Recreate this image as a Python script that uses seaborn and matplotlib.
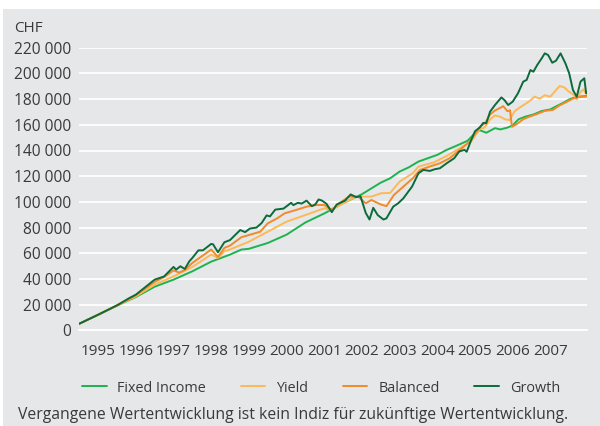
import matplotlib
matplotlib.use("Agg")
import matplotlib.pyplot as plt
import matplotlib.patches as mpatches
from matplotlib.ticker import FixedLocator, NullFormatter, FixedFormatter
import seaborn as sns
import pandas as pd

# values in CHF thousands, x in decimal years
fi_x = [1995.0, 1995.5, 1996.0, 1996.5, 1997.0, 1997.5, 1998.0, 1998.5, 1999.0, 1999.3,
        1999.5, 2000.0, 2000.5, 2001.0, 2001.5, 2002.0, 2002.5, 2003.0, 2003.25, 2003.5,
        2003.75, 2004.0, 2004.25, 2004.5, 2004.75, 2005.0, 2005.3, 2005.5, 2005.63, 2005.8,
        2006.03, 2006.17, 2006.35, 2006.5, 2006.65, 2006.83, 2007.05, 2007.27, 2007.5, 2007.67,
        2007.85, 2008.0, 2008.2, 2008.48]
fi_y = [5.2, 12.2, 19.2, 26.0, 34.0, 39.5, 46.0, 53.5, 59.0, 62.9,
        63.5, 68.0, 74.5, 84.0, 91.0, 99.0, 106.0, 115.0, 118.4, 123.6,
        127.0, 131.4, 134.0, 136.6, 140.5, 143.6, 147.5, 153.5, 155.8, 153.8,
        157.4, 156.4, 157.7, 159.5, 164.2, 166.3, 168.0, 170.7, 172.0, 174.6,
        177.2, 179.8, 181.8, 182.4]

yield_x = [1995.0, 1995.5, 1996.0, 1996.5, 1997.0, 1997.5, 1998.0, 1998.5, 1998.68, 1998.85,
           1999.0, 1999.5, 2000.0, 2000.5, 2001.0, 2001.5, 2001.7, 2002.0, 2002.35, 2002.75,
           2003.0, 2003.25, 2003.5, 2003.85, 2004.0, 2004.4, 2004.75, 2005.1, 2005.4, 2005.63,
           2005.75, 2005.9, 2006.03, 2006.17, 2006.3, 2006.42, 2006.55, 2006.68, 2006.82, 2006.95,
           2007.08, 2007.22, 2007.35, 2007.5, 2007.65, 2007.75, 2007.88, 2007.97, 2008.1, 2008.2,
           2008.3, 2008.38, 2008.44, 2008.48]
yield_y = [5.2, 12.2, 19.2, 26.5, 35.6, 42.0, 49.4, 59.0, 56.4, 61.6,
           63.0, 69.0, 76.8, 84.6, 89.8, 95.0, 93.7, 98.9, 104.1, 104.1,
           106.7, 107.0, 115.8, 122.3, 127.5, 130.6, 135.8, 141.8, 147.0, 156.9,
           157.7, 164.2, 167.3, 166.3, 164.2, 163.7, 170.5, 173.3, 175.9, 178.5,
           181.9, 180.3, 183.0, 181.9, 187.1, 190.2, 188.9, 186.3, 183.7, 179.8,
           185.5, 187.6, 184.5, 183.7]

bal_x = [1995.0, 1995.5, 1996.0, 1996.33, 1996.5, 1997.0, 1997.25, 1997.5, 1997.65, 1997.8,
         1998.0, 1998.5, 1998.68, 1998.85, 1999.0, 1999.3, 1999.5, 1999.8, 2000.0, 2000.25,
         2000.45, 2000.75, 2001.03, 2001.3, 2001.5, 2001.7, 2001.9, 2002.15, 2002.4, 2002.6,
         2002.75, 2003.0, 2003.15, 2003.35, 2003.6, 2003.85, 2004.04, 2004.3, 2004.57, 2004.83,
         2005.1, 2005.36, 2005.63, 2005.77, 2005.9, 2006.03, 2006.17, 2006.25, 2006.36, 2006.43,
         2006.48, 2006.6, 2006.78, 2006.95, 2007.13, 2007.35, 2007.57, 2007.75, 2007.93, 2008.1,
         2008.28, 2008.48]
bal_y = [5.2, 12.2, 19.5, 24.5, 27.5, 37.7, 41.5, 46.7, 45.0, 47.0,
         52.5, 62.9, 57.1, 64.2, 66.0, 72.5, 74.2, 76.8, 83.3, 87.2,
         91.1, 93.7, 96.3, 97.6, 97.6, 93.7, 98.9, 104.1, 104.1, 98.9,
         101.5, 98.0, 96.7, 105.4, 111.9, 118.4, 124.9, 127.5, 130.1, 134.0,
         140.5, 147.0, 158.4, 161.5, 168.0, 171.1, 173.2, 174.5, 170.6, 171.3,
         158.4, 160.4, 164.3, 166.4, 168.2, 170.8, 171.6, 175.2, 177.8, 180.4,
         181.7, 182.0]

gro_x = [1995.0, 1995.5, 1996.0, 1996.33, 1996.5, 1997.0, 1997.25, 1997.5, 1997.57, 1997.68,
         1997.8, 1997.92, 1998.0, 1998.16, 1998.28, 1998.5, 1998.55, 1998.68, 1998.85, 1999.0,
         1999.27, 1999.4, 1999.53, 1999.7, 1999.84, 1999.97, 2000.06, 2000.2, 2000.42, 2000.62,
         2000.68, 2000.8, 2000.9, 2001.03, 2001.17, 2001.26, 2001.35, 2001.44, 2001.56, 2001.7,
         2001.83, 2002.05, 2002.2, 2002.35, 2002.46, 2002.6, 2002.7, 2002.8, 2002.92, 2003.07,
         2003.15, 2003.33, 2003.46, 2003.6, 2003.73, 2003.83, 2004.0, 2004.13, 2004.3, 2004.43,
         2004.57, 2004.75, 2004.95, 2005.08, 2005.22, 2005.28, 2005.4, 2005.5, 2005.63, 2005.72,
         2005.8, 2005.9, 2006.03, 2006.2, 2006.28, 2006.38, 2006.5, 2006.64, 2006.78, 2006.87,
         2006.97, 2007.05, 2007.15, 2007.27, 2007.35, 2007.44, 2007.55, 2007.65, 2007.77, 2007.9,
         2008.0, 2008.1, 2008.2, 2008.3, 2008.4, 2008.45, 2008.48]
gro_y = [5.2, 12.2, 19.5, 25.2, 27.8, 39.5, 42.0, 49.4, 47.3, 49.9,
         47.8, 53.8, 56.4, 62.3, 62.3, 67.3, 67.0, 60.8, 68.6, 70.3,
         78.1, 76.5, 79.3, 80.0, 83.6, 89.5, 88.7, 94.0, 94.8, 99.3,
         97.5, 99.3, 98.7, 101.0, 96.7, 98.0, 101.9, 101.0, 98.5, 92.0,
         98.0, 101.0, 105.8, 103.7, 104.5, 91.5, 86.3, 95.4, 89.7, 86.3,
         87.2, 96.3, 98.9, 102.8, 108.0, 111.9, 122.3, 124.9, 124.1, 125.4,
         126.2, 130.1, 134.0, 139.2, 140.5, 139.0, 148.2, 155.0, 158.0, 161.5,
         161.2, 170.2, 175.4, 181.3, 179.3, 175.4, 178.0, 184.5, 193.6, 194.9,
         202.6, 201.3, 206.5, 211.7, 215.6, 214.3, 208.3, 209.9, 215.6, 207.8,
         200.0, 187.0, 181.8, 193.6, 196.2, 184.5, 185.0]

names = ["Fixed Income", "Yield", "Balanced", "Growth"]
colors = ["#1db34f", "#fdb857", "#f28a2a", "#0b6b3c"]
years = list(range(1995, 2008))
y_ticks = list(range(0, 220001, 20000))

frames = []
for name, xs, ys in zip(names, [fi_x, yield_x, bal_x, gro_x], [fi_y, yield_y, bal_y, gro_y]):
    frames.append(pd.DataFrame({"year": xs, "value": [v * 1000 for v in ys], "series": name}))
df = pd.concat(frames, ignore_index=True)

bg = "#e6e7e8"
txt = "#3a3a3a"
sns.set_theme(style="white")
plt.rcParams["font.family"] = ["Open Sans", "DejaVu Sans"]

fig = plt.figure(figsize=(6.0, 4.26), dpi=100, facecolor="white")
fig.patches.append(mpatches.Rectangle((3 / 600, 0), 597 / 600, 1 - 9 / 426,
                                      transform=fig.transFigure, facecolor=bg,
                                      edgecolor="none", zorder=-10))
ax = fig.add_axes([79.3 / 600, 1 - 330.4 / 426, 508 / 600, (330.4 - 47.7) / 426])
ax.set_facecolor("none")

sns.lineplot(data=df, x="year", y="value", hue="series", hue_order=names,
             palette=colors, estimator=None, sort=False, linewidth=1.4, ax=ax)

ax.set_xlim(1995.0, 2008.48)
ax.set_ylim(0, 220000)
ax.set_yticks(y_ticks)
ax.set_yticklabels([f"{v:,}".replace(",", " ") for v in y_ticks])
ax.yaxis.grid(True, color="white", linewidth=1.3)
ax.set_axisbelow(True)
ax.tick_params(axis="y", length=0, labelsize=11.2, labelcolor=txt, pad=6)

ax.xaxis.set_major_locator(FixedLocator(years + [2008, 2008.48]))
ax.xaxis.set_major_formatter(NullFormatter())
ax.xaxis.set_minor_locator(FixedLocator([y + 0.5 for y in years]))
ax.xaxis.set_minor_formatter(FixedFormatter([str(y) for y in years]))
ax.tick_params(axis="x", which="major", length=5, width=1.2, color="white", direction="out")
ax.tick_params(axis="x", which="minor", length=0, labelsize=11, labelcolor=txt, pad=10)

for s in ["top", "right", "left"]:
    ax.spines[s].set_visible(False)
ax.spines["bottom"].set_color("white")
ax.spines["bottom"].set_linewidth(1.3)
ax.set_xlabel("")
ax.set_ylabel("")

fig.text(14 / 600, 1 - 28 / 426, "CHF", fontsize=11, color=txt, va="center", ha="left")

handles, labels = ax.get_legend_handles_labels()
ax.legend(handles, labels, ncol=4, frameon=False, loc="center left",
          bbox_to_anchor=(82 / 600, 1 - 388 / 426), bbox_transform=fig.transFigure,
          fontsize=10.4, labelcolor=txt, handlelength=1.7, handletextpad=0.75,
          columnspacing=2.4, borderaxespad=0, borderpad=0)

fig.text(18 / 600, 1 - 415 / 426,
         "Vergangene Wertentwicklung ist kein Indiz für zukünftige Wertentwicklung.",
         fontsize=11.3, color=txt, va="center", ha="left")

fig.savefig("out.png", dpi=100, facecolor="white")
